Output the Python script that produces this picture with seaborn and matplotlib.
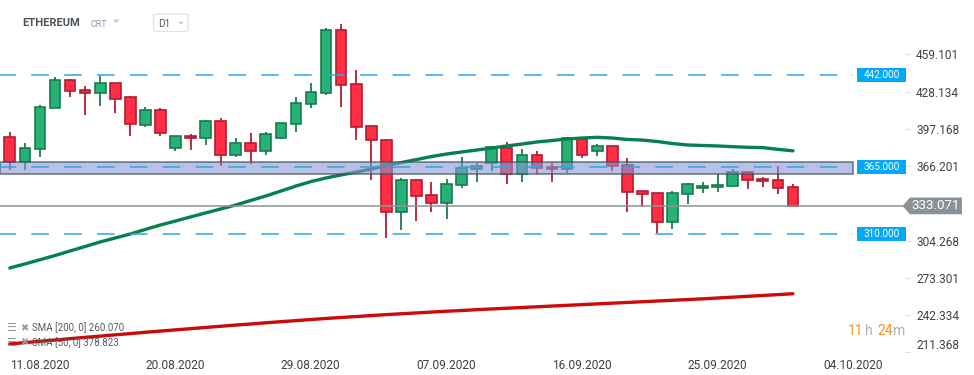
import matplotlib
matplotlib.use("Agg")
import pandas as pd
import matplotlib.pyplot as plt
import matplotlib.dates as mdates
from matplotlib.patches import Rectangle, Polygon, FancyBboxPatch
from matplotlib.transforms import blended_transform_factory
import seaborn as sns


# Daily ETHEREUM candles, 11.08.2020 - 02.10.2020
start_date = "2020-08-11"
opens = [390.1, 369.8, 380.1, 414.2, 437.5, 429.2, 426.7, 435.0, 423.3, 400.6,
         412.5, 381.0, 390.9, 389.3, 403.4, 375.1, 385.1, 378.5, 389.3, 400.9,
         417.5, 426.7, 479.0, 434.2, 399.2, 387.6, 327.8, 354.4, 341.9, 335.2,
         350.2, 363.5, 368.5, 381.0, 359.3, 375.1, 365.2, 363.5, 388.4, 378.5,
         382.6, 366.8, 345.2, 343.5, 319.4, 342.7, 347.7, 348.5, 349.4, 361.0,
         355.2, 354.4, 348.6]
highs = [394.3, 385.4, 417.0, 440.2, 438.6, 432.8, 441.3, 435.5, 424.2, 415.0,
         414.2, 390.9, 392.8, 404.5, 405.9, 389.5, 393.7, 394.5, 401.7, 423.3,
         435.2, 480.9, 484.3, 446.0, 399.2, 388.7, 356.0, 355.2, 352.9, 355.4,
         373.5, 368.5, 382.6, 385.9, 380.1, 378.7, 368.5, 390.1, 390.1, 384.3,
         382.6, 372.6, 345.2, 343.5, 345.5, 351.9, 352.7, 359.3, 363.5, 361.0,
         356.9, 366.0, 351.0]
lows = [363.2, 362.7, 374.0, 414.2, 423.9, 408.9, 416.4, 410.6, 391.4, 398.9,
        391.4, 378.5, 379.8, 383.9, 366.5, 374.0, 368.2, 375.6, 388.4, 394.7,
        414.7, 425.5, 415.5, 388.1, 354.9, 306.6, 313.3, 320.8, 328.2, 322.4,
        347.7, 352.7, 361.8, 351.0, 352.7, 359.3, 352.7, 360.2, 372.6, 374.3,
        361.8, 328.4, 332.4, 310.8, 314.1, 334.9, 343.5, 344.4, 349.4, 347.4,
        348.5, 342.7, 331.9]
closes = [369.8, 381.0, 415.0, 437.5, 428.3, 426.7, 435.0, 422.2, 400.9, 412.5,
          393.4, 390.9, 389.3, 403.4, 375.1, 385.1, 378.5, 392.6, 401.7, 418.4,
          427.5, 479.0, 433.3, 398.4, 387.6, 327.8, 354.4, 341.2, 335.2, 351.0,
          364.3, 366.0, 381.8, 359.3, 375.1, 364.3, 363.5, 389.3, 375.1, 382.6,
          366.0, 344.4, 342.7, 319.4, 343.5, 351.0, 349.4, 350.2, 361.0, 354.4,
          353.5, 347.7, 333.071]
sma50 = [281.5, 284.8, 288.3, 291.8, 295.6, 299.3, 303.1, 306.4, 309.7, 313.5,
         317.2, 320.5, 323.9, 327.2, 330.5, 333.8, 337.6, 341.3, 345.4, 349.6,
         353.3, 356.3, 358.8, 361.2, 363.7, 366.7, 369.1, 371.6, 374.1, 376.2,
         377.9, 379.5, 381.2, 382.9, 384.5, 386.2, 387.4, 388.7, 389.5, 390.1,
         389.5, 388.3, 387.8, 386.6, 384.9, 383.7, 383.3, 382.9, 382.3, 381.8,
         381.5, 380.1, 378.823]
sma200 = [218.3, 219.4, 220.5, 221.6, 222.7, 223.8, 224.8, 225.9, 226.9, 228.0,
          229.0, 230.0, 231.0, 232.0, 233.0, 234.0, 234.9, 235.9, 236.8, 237.7,
          238.6, 239.5, 240.3, 241.1, 241.9, 242.7, 243.4, 244.1, 244.8, 245.5,
          246.1, 246.8, 247.4, 248.0, 248.6, 249.2, 249.8, 250.4, 251.0, 251.6,
          252.2, 252.8, 253.4, 254.0, 254.6, 255.2, 255.8, 256.5, 257.2, 257.9,
          258.6, 259.3, 260.070]

levels = [442.0, 365.0, 310.0]
zone_low, zone_high = 359.3, 369.3
last_price = 333.071
price_ticks = [459.101, 428.134, 397.168, 366.201, 304.268, 273.301, 242.334, 211.368]
date_ticks = ["2020-08-11", "2020-08-20", "2020-08-29", "2020-09-07",
              "2020-09-16", "2020-09-25", "2020-10-04"]

df = pd.DataFrame({
    "date": pd.date_range(start_date, periods=len(opens), freq="D"),
    "open": opens, "high": highs, "low": lows, "close": closes,
    "sma50": sma50, "sma200": sma200,
})

W, H = 974, 375
GREEN, GREEN_EDGE = "#26b276", "#1a7a50"
RED, RED_EDGE = "#ff2e44", "#b41c30"
BLUE = "#03a9f4"
TXT = "#3c4146"

sns.set_style("white")
plt.rcParams["font.family"] = ["Roboto", "DejaVu Sans"]

fig = plt.figure(figsize=(W / 100, H / 100), dpi=100)
ax = fig.add_axes([0, 1 - 353 / H, 905 / W, 353 / H])

# candles
up = df["close"] >= df["open"]
fills = [GREEN if u else RED for u in up]
edges = [GREEN_EDGE if u else RED_EDGE for u in up]
ax.vlines(df["date"], df["low"], df["high"], colors=edges, lw=1.3, zorder=2)
ax.bar(df["date"], (df["close"] - df["open"]).abs().clip(lower=1.2),
       bottom=df[["open", "close"]].min(axis=1), width=0.71,
       color=fills, edgecolor=edges, linewidth=1.2, zorder=3)

# moving averages
sns.lineplot(data=df, x="date", y="sma50", color="#07804f", lw=2.4, ax=ax, zorder=4)
sns.lineplot(data=df, x="date", y="sma200", color="#cc0a0a", lw=2.4, ax=ax, zorder=4)

# x / y range
d0 = mdates.date2num(pd.Timestamp(start_date))
ax.set_xlim(d0 - 0.65, d0 + 59.44)
ax.set_ylim(210.78, 504.24)
line_end = 853 / 905

# support / resistance zone and levels
ax.axhspan(zone_low, zone_high, xmin=0, xmax=line_end, facecolor="#8a96d5",
           alpha=0.6, edgecolor="#3e4e5a", lw=1.4, zorder=5)
for lv in levels:
    ax.axhline(lv, xmin=0, xmax=line_end, color="#2aa7e6", lw=1.1,
               ls=(1, (11.5, 10)), zorder=6)
ax.axhline(last_price, xmin=0, xmax=903 / 905, color="#8c9396", lw=1.1, zorder=6)

# axes styling
for s in ax.spines.values():
    s.set_visible(False)
ax.set_xlabel("")
ax.set_ylabel("")
ax.yaxis.tick_right()
ax.set_yticks(price_ticks)
ax.set_yticklabels([f"{v:.3f}" for v in price_ticks])
ax.get_yticklabels()[-1].set_va("bottom")
ax.tick_params(axis="y", length=4, color="#e2e2e2", pad=4, labelsize=8.6, labelcolor=TXT)
ax.set_xticks([mdates.date2num(pd.Timestamp(d)) for d in date_ticks])
ax.set_xticklabels([pd.Timestamp(d).strftime("%d.%m.%Y") for d in date_ticks], ha="left")
ax.tick_params(axis="x", length=4, color="#e2e2e2", pad=0, labelsize=8.6, labelcolor=TXT)
ax.grid(False)

# right-side level labels
tr = blended_transform_factory(fig.transFigure, ax.transData)
px2p = (504.24 - 210.78) / 353
for lv in levels:
    h = 14 * px2p
    ax.add_patch(Rectangle((857 / W, lv - h / 2), 49 / W, h, transform=tr,
                           facecolor=BLUE, edgecolor="none", clip_on=False, zorder=7))
    ax.text(881.5 / W, lv, f"{lv:.3f}", transform=tr, ha="center", va="center",
            color="white", fontsize=7.2, zorder=8, clip_on=False)

h = 16.7 * px2p
ax.add_patch(Polygon([(902.5 / W, last_price), (910 / W, last_price + h / 2),
                      (962 / W, last_price + h / 2), (962 / W, last_price - h / 2),
                      (910 / W, last_price - h / 2)], closed=True, transform=tr,
                     facecolor="#8a9297", edgecolor="none", clip_on=False, zorder=7))
ax.text(936 / W, last_price, f"{last_price:.3f}", transform=tr, ha="center",
        va="center", color="white", fontsize=9.6, zorder=8, clip_on=False)


def fx(px):
    return px / W


def fy(py):
    return 1 - py / H


# header
fig.text(fx(22), fy(23.5), "ETHEREUM", fontsize=8, fontweight="bold", color="#4a5259",
         va="center")
fig.text(fx(90.5), fy(24.5), "CRT", fontsize=6.4, color="#8797a8", va="center")
fig.add_artist(Polygon([(fx(113), fy(19.5)), (fx(119.5), fy(19.5)), (fx(116.2), fy(23))],
                       closed=True, transform=fig.transFigure, facecolor="#c8c8c8",
                       edgecolor="none"))
fig.add_artist(FancyBboxPatch((fx(153.5), fy(31.5)), fx(34.5), 17.5 / H,
                              boxstyle="round,pad=0,rounding_size=0.004",
                              transform=fig.transFigure, facecolor="white",
                              edgecolor="#e2e2e2", lw=0.9))
fig.text(fx(158), fy(24), "D1", fontsize=7.2, color="#555a5f", va="center")
fig.add_artist(Polygon([(fx(178), fy(21.7)), (fx(184), fy(21.7)), (fx(181), fy(24.5))],
                       closed=True, transform=fig.transFigure, facecolor="#c8c8c8",
                       edgecolor="none"))

# indicator legend
for py, txt in [(328, "SMA [200, 0] 260.070"), (342.5, "SMA [50, 0] 378.823")]:
    fig.text(fx(6), fy(py), "☰", fontsize=8, color="#9a9a9a", va="center",
             fontweight="bold")
    fig.text(fx(20), fy(py), "✖", fontsize=7, color="#9a9a9a", va="center")
    fig.text(fx(32), fy(py), txt, fontsize=7, color="#555a5f", va="center")

# countdown
for px, txt, col in [(848, "11", "#f7931a"), (864.5, "h", "#b0b0b0"),
                     (877, "24", "#f7931a"), (893.5, "m", "#b0b0b0")]:
    fig.text(fx(px), fy(335), txt, fontsize=10, color=col, va="baseline")

fig.savefig("out.png", dpi=100, facecolor="white")
